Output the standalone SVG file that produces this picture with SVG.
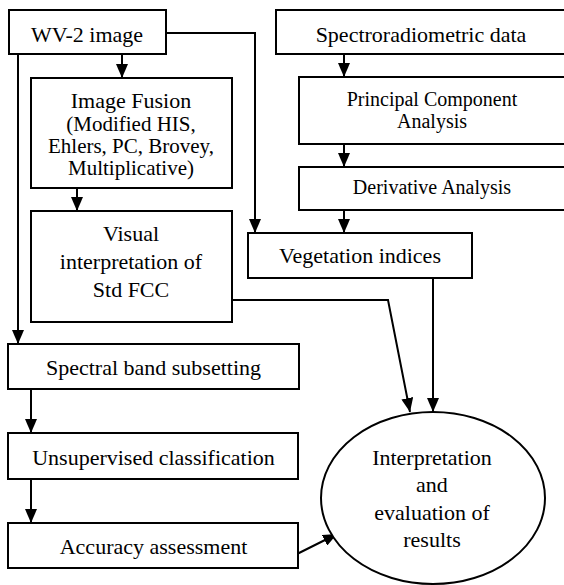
<svg xmlns="http://www.w3.org/2000/svg" width="564" height="585" viewBox="0 0 564 585">
<defs>
<marker id="ah" viewBox="0 0 14 12" refX="14" refY="6" markerWidth="14" markerHeight="12" markerUnits="userSpaceOnUse" orient="auto">
<path d="M0,0 L14,6 L0,12 Z" fill="#000"/>
</marker>
<style>
.box{fill:#fff;stroke:#000;stroke-width:2}
.t{font-family:"Liberation Serif","Times New Roman",serif;font-size:22px;fill:#000;text-anchor:middle}
.s{font-size:20px}
.c{fill:none;stroke:#000;stroke-width:2;marker-end:url(#ah)}
</style>
</defs>
<rect width="564" height="585" fill="#fff"/>
<g id="connectors">
<path class="c" d="M166,33 H255 V233"/>
<path class="c" d="M18,54 V344"/>
<path class="c" d="M122,54 V78"/>
<path class="c" d="M77,188 V211"/>
<path class="c" d="M344,54 V77"/>
<path class="c" d="M344,144 V167"/>
<path class="c" d="M344,210 V233"/>
<path class="c" d="M232,300 H388 L410,412"/>
<path class="c" d="M433,278 V412"/>
<path class="c" d="M31,389 V433"/>
<path class="c" d="M31,479 V523"/>
<path class="c" d="M297,554 L337,534"/>
</g>
<g id="wv2"><rect class="box" x="9" y="10" width="157" height="44"/><text class="t" x="87" y="42">WV-2 image</text></g>
<g id="spectro"><rect class="box" x="276" y="10" width="300" height="44"/><text class="t" x="421" y="42">Spectroradiometric data</text></g>
<g id="fusion"><rect class="box" x="31" y="78" width="201" height="110"/>
<text class="t" x="131" y="108">Image Fusion</text>
<text class="t" x="131" y="131" style="font-size:21px">(Modified HIS,</text>
<text class="t" x="131" y="153" style="font-size:21px">Ehlers, PC, Brovey,</text>
<text class="t" x="131" y="175" style="font-size:21px">Multiplicative)</text></g>
<g id="pca"><rect class="box" x="299" y="77" width="280" height="67"/>
<text class="t s" x="432" y="106">Principal Component</text>
<text class="t s" x="432" y="128">Analysis</text></g>
<g id="deriv"><rect class="box" x="299" y="167" width="280" height="43"/>
<text class="t s" x="432" y="194">Derivative Analysis</text></g>
<g id="visual"><rect class="box" x="31" y="211" width="201" height="111"/>
<text class="t" x="131" y="241">Visual</text>
<text class="t" x="131" y="269">interpretation of</text>
<text class="t" x="131" y="297">Std FCC</text></g>
<g id="veg"><rect class="box" x="248" y="233" width="224" height="45"/>
<text class="t" x="360" y="263">Vegetation indices</text></g>
<g id="subset"><rect class="box" x="8" y="344" width="291" height="45"/>
<text class="t" x="153.5" y="375">Spectral band subsetting</text></g>
<g id="unsup"><rect class="box" x="8" y="433" width="290" height="46"/>
<text class="t" x="153.5" y="465">Unsupervised classification</text></g>
<g id="accuracy"><rect class="box" x="8" y="523" width="290" height="45"/>
<text class="t" x="153.5" y="554">Accuracy assessment</text></g>
<g id="interp"><ellipse class="box" cx="433" cy="498" rx="112" ry="86"/>
<text class="t" x="432" y="465">Interpretation</text>
<text class="t" x="432" y="492">and</text>
<text class="t" x="432" y="520">evaluation of</text>
<text class="t" x="432" y="547">results</text></g>
</svg>
